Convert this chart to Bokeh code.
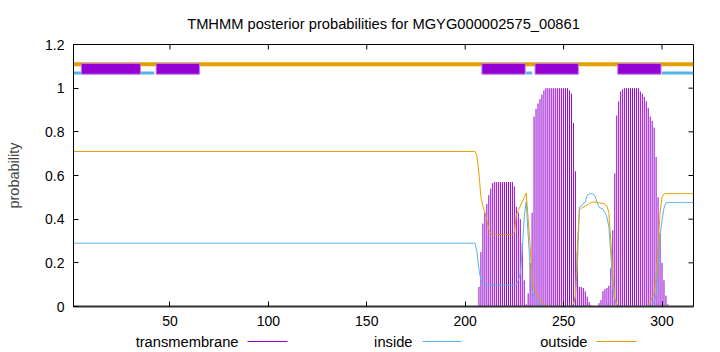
from bokeh.plotting import figure
from bokeh.models import Range1d, FixedTicker
from bokeh.layouts import column
from bokeh.core.properties import value
from bokeh.embed import file_html
from bokeh.resources import INLINE

# ---- data -------------------------------------------------------------
seq_id = "MGYG000002575_00861"
seq_len = 316

# residues 1..204: flat posterior (no transmembrane signal)
lead_residue = [1, 204]
lead_inside = [0.29, 0.29]
lead_outside = [0.71, 0.71]

# residues 205..316, one value per residue
residue = list(range(205, 317))
tm_prob = [
    0.0, 0.0, 0.09, 0.25, 0.38, 0.43, 0.47, 0.51, 0.54, 0.565,          # 205-214
    0.57, 0.57, 0.57, 0.57, 0.57, 0.57, 0.57, 0.57, 0.57, 0.57,         # 215-224
    0.55, 0.456, 0.43, 0.40, 0.29, 0.12, 0.01, 0.06, 0.20, 0.43,        # 225-234
    0.87, 0.905, 0.93, 0.95, 0.97, 0.99, 1.0, 1.0, 1.0, 1.0,            # 235-244
    1.0, 1.0, 1.0, 1.0, 1.0, 1.0, 1.0, 1.0, 0.99, 0.975,                # 245-254
    0.84, 0.62, 0.25, 0.09, 0.09, 0.085, 0.07, 0.045, 0.02, 0.005,      # 255-264
    0.003, 0.0, 0.003, 0.015, 0.03, 0.07, 0.08, 0.085, 0.095, 0.175,    # 265-274
    0.35, 0.61, 0.875, 0.94, 0.985, 0.995, 1.0, 1.0, 1.0, 1.0,          # 275-284
    1.0, 1.0, 1.0, 1.0, 0.985, 0.975, 0.96, 0.94, 0.91, 0.87,           # 285-294
    0.85, 0.82, 0.685, 0.50, 0.335, 0.20, 0.12, 0.05, 0.01, 0.0,        # 295-304
    0.0, 0.0, 0.0, 0.0, 0.0, 0.0, 0.0, 0.0, 0.0, 0.0,                   # 305-314
    0.0, 0.0,                                                           # 315-316
]
inside_prob = [
    0.29, 0.25, 0.17, 0.12, 0.105, 0.098, 0.098, 0.098, 0.098, 0.098,   # 205-214
    0.098, 0.098, 0.098, 0.098, 0.098, 0.098, 0.098, 0.098, 0.098, 0.098,  # 215-224
    0.098, 0.10, 0.12, 0.15, 0.26, 0.41, 0.48, 0.33, 0.18, 0.075,       # 225-234
    0.045, 0.03, 0.02, 0.01, 0.005, 0.0, 0.0, 0.0, 0.0, 0.0,            # 235-244
    0.0, 0.0, 0.0, 0.0, 0.0, 0.0, 0.0, 0.0, 0.0, 0.002,                 # 245-254
    0.01, 0.05, 0.18, 0.456, 0.46, 0.47, 0.48, 0.51, 0.515, 0.517,      # 255-264
    0.515, 0.505, 0.475, 0.455, 0.45, 0.445, 0.43, 0.41, 0.365, 0.24,   # 265-274
    0.08, 0.03, 0.007, 0.002, 0.0, 0.0, 0.0, 0.0, 0.0, 0.0,             # 275-284
    0.0, 0.0, 0.0, 0.0, 0.0, 0.0, 0.0, 0.0, 0.002, 0.004,               # 285-294
    0.008, 0.02, 0.05, 0.18, 0.32, 0.395, 0.45, 0.475, 0.476, 0.476,    # 295-304
    0.476, 0.476, 0.476, 0.476, 0.476, 0.476, 0.476, 0.476, 0.476, 0.476,  # 305-314
    0.476, 0.476,                                                       # 315-316
]
outside_prob = [
    0.71, 0.69, 0.61, 0.50, 0.46, 0.43, 0.395, 0.35, 0.335, 0.33,       # 205-214
    0.33, 0.33, 0.33, 0.33, 0.33, 0.33, 0.33, 0.33, 0.33, 0.33,         # 215-224
    0.34, 0.42, 0.44, 0.46, 0.48, 0.50, 0.52, 0.40, 0.28, 0.12,         # 225-234
    0.075, 0.06, 0.05, 0.035, 0.02, 0.01, 0.005, 0.0, 0.0, 0.0,         # 235-244
    0.0, 0.0, 0.0, 0.0, 0.0, 0.0, 0.0, 0.0, 0.0, 0.003,                 # 245-254
    0.01, 0.04, 0.28, 0.44, 0.45, 0.455, 0.46, 0.465, 0.472, 0.477,     # 255-264
    0.478, 0.478, 0.477, 0.475, 0.473, 0.472, 0.468, 0.46, 0.43, 0.30,  # 265-274
    0.14, 0.04, 0.01, 0.002, 0.0, 0.0, 0.0, 0.0, 0.0, 0.0,              # 275-284
    0.0, 0.0, 0.0, 0.0, 0.0, 0.0, 0.0, 0.0, 0.01, 0.02,                 # 285-294
    0.04, 0.06, 0.13, 0.27, 0.43, 0.50, 0.515, 0.517, 0.517, 0.517,     # 295-304
    0.517, 0.517, 0.517, 0.517, 0.517, 0.517, 0.517, 0.517, 0.517, 0.517,  # 305-314
    0.517, 0.517,                                                       # 315-316
]

# predicted topology, drawn as a band above the curves
tm_seg_start = [5, 43, 208.5, 235.5, 277.5]
tm_seg_end = [35, 65, 230.5, 257.5, 299.5]
in_seg_start = [1, 35, 231, 300]
in_seg_end = [5, 42, 234, 316]
out_seg_start = [1]
out_seg_end = [316]

x_ticks = [50, 100, 150, 200, 250, 300]
y_ticks = [0, 0.2, 0.4, 0.6, 0.8, 1, 1.2]
y_tick_labels = ["0", "0.2", "0.4", "0.6", "0.8", "1", "1.2"]

legend_names = ["transmembrane", "inside", "outside"]

# ---- styling ----------------------------------------------------------
FONT = "Liberation Sans"
C_TM = "#9400d3"
C_IN = "#56b4e9"
C_OUT = "#e69f00"
legend_colors = [C_TM, C_IN, C_OUT]

W = 720
H_MAIN, H_KEY = 332, 20
FL, FR, FT, FB = 73, 27, 44, 26          # borders around the plot frame
X0, X1, Y0, Y1 = 1, seq_len, 0, 1.2
FRAME_W = W - FL - FR
FRAME_H = H_MAIN - FT - FB
TICK_PX = 5

p = figure(width=W, height=H_MAIN, x_range=Range1d(X0, X1), y_range=Range1d(Y0, Y1),
           output_backend="svg", toolbar_location=None,
           min_border_left=FL, min_border_right=FR,
           min_border_top=FT, min_border_bottom=FB)

p.title.text = f"TMHMM posterior probabilities for {seq_id}"
p.title.align = "center"
p.title.text_font = FONT
p.title.text_font_size = "14.7px"
p.title.text_font_style = "normal"
p.title.text_color = "black"
p.title.standoff = 25

p.grid.visible = False
p.outline_line_color = "black"
p.outline_line_width = 1
p.background_fill_color = "white"
p.border_fill_color = "white"

def style_axis(ax, ticks):
    ax.ticker = FixedTicker(ticks=ticks)
    ax.major_tick_in = TICK_PX
    ax.major_tick_out = 0
    ax.minor_tick_in = 0
    ax.minor_tick_out = 0
    ax.major_tick_line_color = "black"
    ax.axis_line_color = "black"
    ax.major_label_text_font = FONT
    ax.major_label_text_color = "black"
    ax.major_label_text_font_size = "14px"
    ax.major_label_standoff = 9

xb = p.xaxis[0]
style_axis(xb, x_ticks)
xb.axis_line_color = "#333333"
xb.axis_line_width = 2

yl = p.yaxis[0]
style_axis(yl, y_ticks)
yl.major_label_overrides = dict(zip(y_ticks, y_tick_labels))
yl.axis_label = "probability"
yl.axis_label_text_font = FONT
yl.axis_label_text_font_size = "14.5px"
yl.axis_label_text_font_style = "normal"
yl.axis_label_standoff = 20

# mirrored tick marks on the right and top edges of the frame
dx = TICK_PX * (X1 - X0) / FRAME_W
dy = TICK_PX * (Y1 - Y0) / FRAME_H
p.segment(x0=[X1] * len(y_ticks), y0=y_ticks, x1=[X1 - dx] * len(y_ticks), y1=y_ticks,
          line_color="black", line_width=1)
p.segment(x0=x_ticks, y0=[Y1] * len(x_ticks), x1=x_ticks, y1=[Y1 - dy] * len(x_ticks),
          line_color="black", line_width=1)

# ---- posterior curves -------------------------------------------------
p.segment(x0=residue, y0=[0] * len(residue), x1=residue, y1=tm_prob,
          line_color=C_TM, line_width=1)
p.line(lead_residue + residue, lead_inside + inside_prob, line_color=C_IN, line_width=1)
p.line(lead_residue + residue, lead_outside + outside_prob, line_color=C_OUT, line_width=1)

# ---- topology band ----------------------------------------------------
p.segment(x0=out_seg_start, y0=[1.11] * len(out_seg_start), x1=out_seg_end,
          y1=[1.11] * len(out_seg_end), line_color=C_OUT, line_width=4)
p.segment(x0=in_seg_start, y0=[1.069] * len(in_seg_start), x1=in_seg_end,
          y1=[1.069] * len(in_seg_end), line_color=C_IN, line_width=3)
p.quad(left=tm_seg_start, right=tm_seg_end, bottom=1.064, top=1.113,
       fill_color=C_TM, line_color="#c27ae8", line_width=1)

# ---- key row under the chart: label first, then line sample -------------
# the column layout aligns this row's frame with the chart frame (x from FL to W-FR),
# so the range is expressed in page pixels
key = figure(width=W, height=H_KEY, x_range=Range1d(FL, W - FR), y_range=Range1d(0, H_KEY),
             output_backend="svg", toolbar_location=None,
             x_axis_type=None, y_axis_type=None, min_border=0,
             min_border_left=FL, min_border_right=FR)
key.grid.visible = False
key.outline_line_color = None
key.background_fill_color = "white"
key.border_fill_color = "white"

key_text_right = [238, 412, 587]
key_line_start = [247, 422, 596]
key_line_end = [287, 461, 636]
key_y = 11
key.text(x=key_text_right, y=[key_y] * 3, text=legend_names,
         text_align="right", text_baseline="middle",
         text_font=value(FONT), text_font_size=value("14.7px"), text_color="black")
key.segment(x0=key_line_start, y0=[key_y] * 3, x1=key_line_end, y1=[key_y] * 3,
            line_color=legend_colors, line_width=1)

layout = column(p, key, spacing=0)
open("out.html", "w").write(file_html(layout, INLINE))
